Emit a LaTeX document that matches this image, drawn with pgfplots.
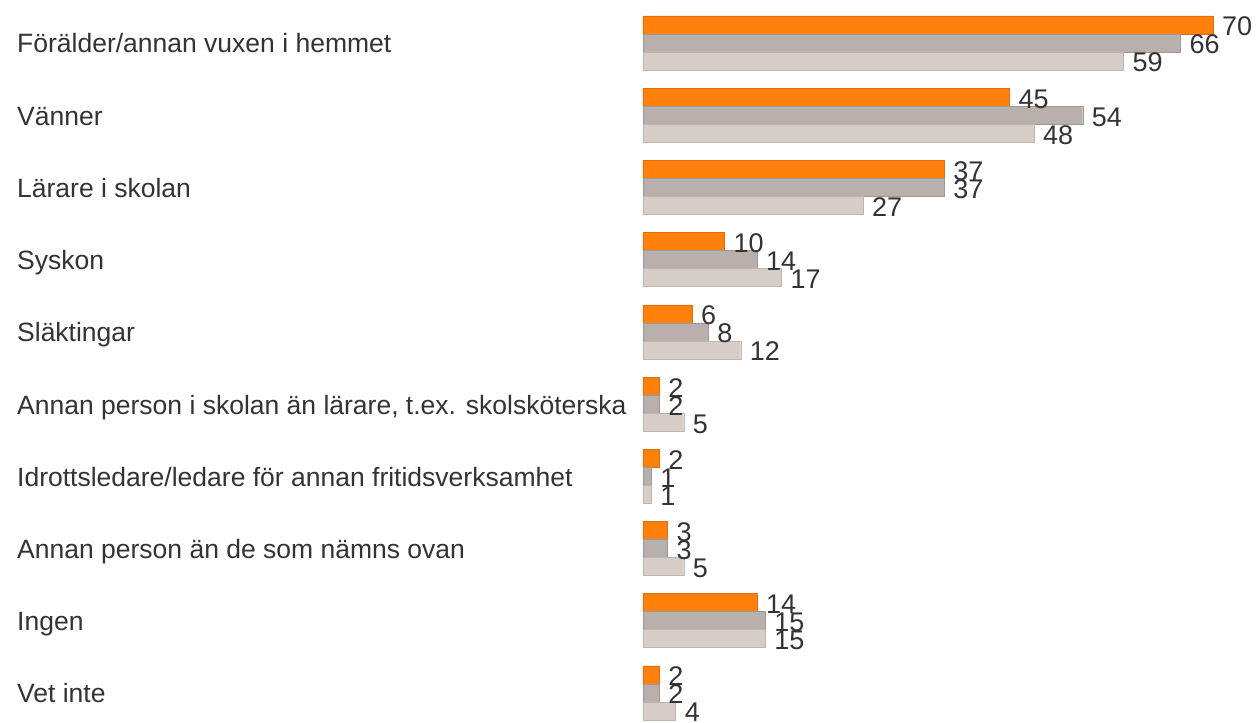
\documentclass[border=0pt]{standalone}
\usepackage{fontspec}
\setmainfont{Liberation Sans}
\usepackage{pgfplots}
\pgfplotsset{compat=1.18}

\definecolor{barorange}{RGB}{255,128,10}
\definecolor{barorangeedge}{RGB}{225,110,20}
\definecolor{bargray}{RGB}{184,176,172}
\definecolor{bargrayedge}{RGB}{160,152,148}
\definecolor{barbeige}{RGB}{214,205,198}
\definecolor{barbeigeedge}{RGB}{190,181,174}
\definecolor{labelgray}{RGB}{51,51,51}

\begin{document}
\begin{tikzpicture}
\begin{axis}[
    at={(643pt,0pt)}, anchor=south west,
    scale only axis,
    width=570pt, height=723pt,
    xmin=0, xmax=70,
    ymin=-0.5956, ymax=9.4183,
    y dir=reverse,
    xbar,
    bar width=18pt,
    clip=false,
    axis line style={draw=none},
    xtick=\empty,
    ytick={0,...,9},
    yticklabels={
        Förälder/annan vuxen i hemmet,
        Vänner,
        Lärare i skolan,
        Syskon,
        Släktingar,
        {Annan person i skolan än lärare, t.ex. skolsköterska},
        Idrottsledare/ledare för annan fritidsverksamhet,
        Annan person än de som nämns ovan,
        Ingen,
        Vet inte},
    major tick length=0pt,
    yticklabel style={anchor=base west, inner sep=0pt, xshift=-626pt, yshift=-10pt,
        font=\fontsize{26.5}{30}\selectfont, text=labelgray},
    nodes near coords,
    nodes near coords style={anchor=base west, inner sep=0pt, xshift=9pt, yshift=-11pt,
        font=\fontsize{27}{30}\selectfont, text=labelgray},
    /pgf/number format/assume math mode=true,
]
% orange series
\addplot[fill=barorange, draw=barorangeedge, bar shift=18pt] coordinates {
    (70,0) (45,1) (37,2) (10,3) (6,4) (2,5) (2,6) (3,7) (14,8) (2,9)};
% gray series
\addplot[fill=bargray, draw=bargrayedge, bar shift=0pt] coordinates {
    (66,0) (54,1) (37,2) (14,3) (8,4) (2,5) (1,6) (3,7) (15,8) (2,9)};
% light beige series
\addplot[fill=barbeige, draw=barbeigeedge, bar shift=-18pt] coordinates {
    (59,0) (48,1) (27,2) (17,3) (12,4) (5,5) (1,6) (5,7) (15,8) (4,9)};
\end{axis}
\pgfresetboundingbox
\path[use as bounding box] (0,0) rectangle (1259pt,723pt);
\end{tikzpicture}
\end{document}
